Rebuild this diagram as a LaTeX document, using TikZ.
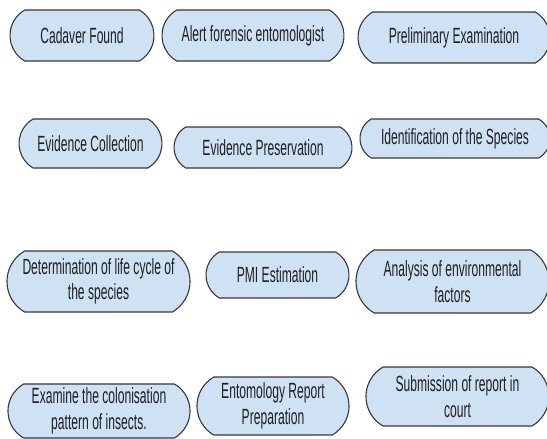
\documentclass[tikz,border=0pt]{standalone}
\usepackage{fontspec}
\setmainfont[FakeStretch=0.55]{Liberation Sans}
\usetikzlibrary{shapes.misc}
\definecolor{stepfill}{RGB}{207,226,243}
\definecolor{stepline}{RGB}{55,55,60}
\definecolor{steptext}{RGB}{30,30,35}

\begin{document}
\begin{tikzpicture}[%
x=1pt, y=-1pt,
stepbox/.style={rounded rectangle, rounded rectangle arc length=120,
  draw=stepline, line width=1.1pt, fill=stepfill, text=steptext,
  inner sep=0pt, align=center, font=\fontsize{22}{25.5}\selectfont},
]
\useasboundingbox (0,0) rectangle (547,439);
\clip (0,0) rectangle (547,439);
%% row 1;
\node [stepbox, minimum width=144pt, minimum height=51pt] (cadaver) at (82,35.5) {Cadaver Found};
\node [stepbox, minimum width=182pt, minimum height=51pt] (alert) at (253,35.5) {Alert forensic entomologist};
\node [stepbox, minimum width=192pt, minimum height=51pt] (prelim) at (454,37.5) {Preliminary Examination};
%% row 2;
\node [stepbox, minimum width=143pt, minimum height=49pt] (evcoll) at (90.5,143.5) {Evidence Collection};
\node [stepbox, minimum width=178pt, minimum height=41pt] (evpres) at (263,147.5) {Evidence Preservation};
\node [stepbox, minimum width=190pt, minimum height=39pt] (ident) at (455,138.5) {Identification of the Species};
%% row 3;
\node [stepbox, minimum width=183pt, minimum height=61pt] (determ) at (98.5,281.5) {Determination of life cycle of\\the species};
\node [stepbox, minimum width=143pt, minimum height=46pt] (pmi) at (277.5,275) {PMI Estimation};
\node [stepbox, minimum width=193pt, minimum height=63pt] (analysis) at (452.5,281.5) {Analysis of environmental\\factors};
%% row 4;
\node [stepbox, minimum width=182pt, minimum height=54pt] (examine) at (99,411) {Examine the colonisation\\pattern of insects.};
\node [stepbox, minimum width=152pt, minimum height=58pt] (entom) at (273,406) {Entomology Report\\Preparation};
\node [stepbox, minimum width=183pt, minimum height=59pt] (submit) at (457.5,396.5) {Submission of report in\\court};
\end{tikzpicture}
\end{document}
